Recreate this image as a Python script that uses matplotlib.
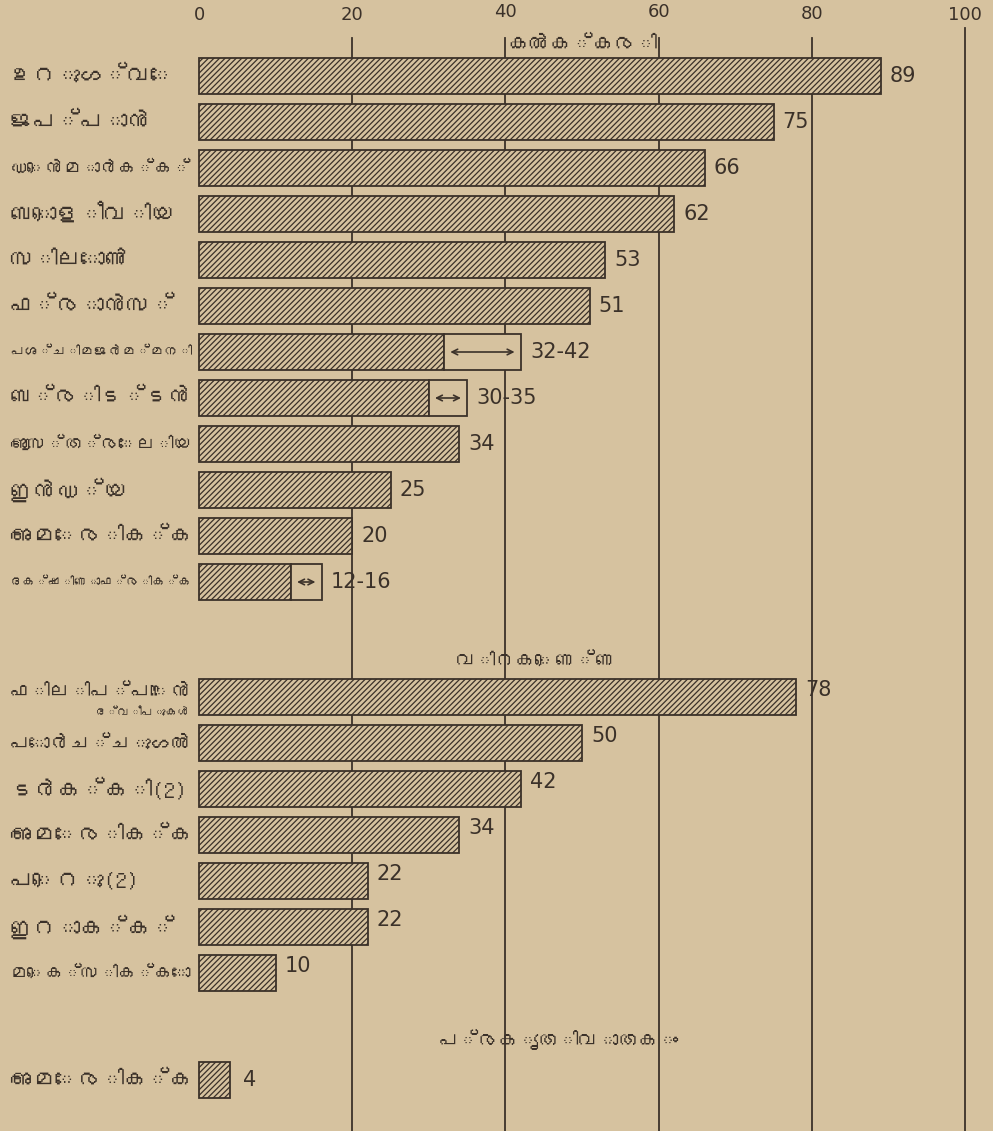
import matplotlib
matplotlib.use("Agg")
import matplotlib.pyplot as plt
from matplotlib import font_manager
from matplotlib.patches import Rectangle

# ---- find a Malayalam-capable font if any (prefer proportional sans) ----
cands = []
try:
    from fontTools.ttLib import TTFont
    for f in font_manager.findSystemFonts():
        try:
            tt = TTFont(f, fontNumber=0, lazy=True)
            cm = tt.getBestCmap()
            if cm and 0x0D15 in cm and 0x0D30 in cm:
                cands.append(f)
        except Exception:
            pass
except Exception:
    pass

def score(f):
    n = f.lower()
    s = 0
    if "mono" in n:
        s += 10
    if "serif" in n and "sans" not in n:
        s += 3
    if "bold" in n or "italic" in n or "oblique" in n:
        s += 5
    return s

mal_family = None
if cands:
    best = sorted(cands, key=score)[0]
    font_manager.fontManager.addfont(best)
    mal_family = font_manager.FontProperties(fname=best).get_name()

MAL = ([mal_family] if mal_family else []) + ["DejaVu Sans"]
NUM = ["DejaVu Sans"]
plt.rcParams['font.family'] = NUM
plt.rcParams['hatch.linewidth'] = 0.9

# ---- data ----
coal_countries = ["ഉറുഗ്വേ", "ജപ്പാൻ", "ഡെൻമാർക്ക്", "ബൊളീവിയ", "സിലോൺ", "ഫ്രാൻസ്",
                  "പശ്ചിമജർമ്മനി", "ബ്രിട്ടൻ", "ആസ്ത്രേലിയ", "ഇൻഡ്യ", "അമേരിക്ക",
                  "ദക്ഷിണാഫ്രിക്ക"]
coal_low = [89, 75, 66, 62, 53, 51, 32, 30, 34, 25, 20, 12]
coal_high = [89, 75, 66, 62, 53, 51, 42, 35, 34, 25, 20, 16]
coal_labels = ["89", "75", "66", "62", "53", "51", "32-42", "30-35", "34", "25", "20", "12-16"]

oil_countries = ["ഫിലിപ്പൈൻ", "പോർച്ചുഗൽ", "ടർക്കി(2)", "അമേരിക്ക", "പെറു(2)", "ഇറാക്ക്", "മെക്സിക്കോ"]
oil_values = [78, 50, 42, 34, 22, 22, 10]
oil_sub = "ദ്വീപുകൾ"

gas_countries = ["അമേരിക്ക"]
gas_values = [4]

section_titles = ["കൽക്കരി", "വിറകെണ്ണ", "പ്രകൃതിവാതകം"]
tick_values = [0, 20, 40, 60, 80, 100]

# ---- style ----
BG = "#d6c29f"
INK = "#3b3129"

fig = plt.figure(figsize=(9.93, 11.31), dpi=100, facecolor=BG)
ax = fig.add_axes([0, 0, 1, 1])
ax.set_facecolor(BG)
px_per = 7.66
x0px = 199
ax.set_xlim(-x0px / px_per, (993 - x0px) / px_per)
row0 = 76.0
rowh = 46.0
ax.set_ylim((1131 - row0) / rowh, -row0 / rowh)
ax.axis("off")

def ypx(p):
    return (p - row0) / rowh

BAR_H = 0.8
label_x = (10 - x0px) / px_per
LABEL_FS = 17
VAL_FS = 15
fit_texts = []  # (text, max width px)

# gridlines
for t in tick_values[1:]:
    top = ypx(38) if t < 100 else ypx(28)
    ax.plot([t, t], [top, ypx(1131)], color=INK, lw=1.3, zorder=1)
# tick labels
tick_y = {0: 15, 20: 15, 40: 12, 60: 12, 80: 14, 100: 15}
for t in tick_values:
    ax.text(t, ypx(tick_y[t]), str(t), ha="center", va="center",
            fontsize=13, color=INK, zorder=3)

def hbar(y, v):
    ax.barh(y, v, height=BAR_H, left=0, color=BG, edgecolor=INK, hatch="//////",
            linewidth=1.3, zorder=2)

def rangebox(y, lo, hi):
    ax.add_patch(Rectangle((lo, y - BAR_H / 2), hi - lo, BAR_H, facecolor=BG,
                           edgecolor=INK, linewidth=1.3, zorder=2))
    ax.annotate("", xy=(hi - 0.8, y), xytext=(lo + 0.8, y),
                arrowprops=dict(arrowstyle="<->", color=INK, lw=1.2,
                                shrinkA=0, shrinkB=0), zorder=3)

def mtext(x, y, s, fs, maxw, **kw):
    t = ax.text(x, y, s, fontsize=fs, color=INK, family=MAL, zorder=3, **kw)
    fit_texts.append((t, maxw))
    return t

# coal section
mtext(50, ypx(45), section_titles[0], LABEL_FS, 150, ha="center", va="center")
for i, (c, lo, hi, lab) in enumerate(zip(coal_countries, coal_low, coal_high, coal_labels)):
    y = i
    hbar(y, lo)
    if hi > lo:
        rangebox(y, lo, hi)
    ax.text(hi + 1.2, y, lab, ha="left", va="center", fontsize=VAL_FS, color=INK, zorder=3)
    mtext(label_x, y, c, LABEL_FS, 182, ha="left", va="center")

# oil section
mtext(44, ypx(660), section_titles[1], LABEL_FS, 160, ha="center", va="center")
oil_start = ypx(697)
for i, (c, v) in enumerate(zip(oil_countries, oil_values)):
    y = oil_start + i
    hbar(y, v)
    ax.text(v + 1.2, y - 0.15, str(v), ha="left", va="center", fontsize=VAL_FS, color=INK, zorder=3)
    mtext(label_x, y - (0.12 if i == 0 else 0), c, LABEL_FS, 182, ha="left", va="center")
mtext((95 - x0px) / px_per, oil_start + 0.33, oil_sub, 10, 95, ha="left", va="center")

# gas section
mtext(47, ypx(1040), section_titles[2], 20, 240, ha="center", va="center")
gas_start = ypx(1080)
for i, (c, v) in enumerate(zip(gas_countries, gas_values)):
    y = gas_start + i
    hbar(y, v)
    ax.text(v + 1.8, y, str(v), ha="left", va="center", fontsize=VAL_FS, color=INK, zorder=3)
    mtext(label_x, y, c, LABEL_FS, 182, ha="left", va="center")

# shrink Malayalam texts that would run into the bars
fig.canvas.draw()
r = fig.canvas.get_renderer()
for t, maxw in fit_texts:
    w = t.get_window_extent(renderer=r).width
    if w > maxw:
        t.set_fontsize(t.get_fontsize() * maxw / w)

fig.savefig("out.png", dpi=100, facecolor=BG)
